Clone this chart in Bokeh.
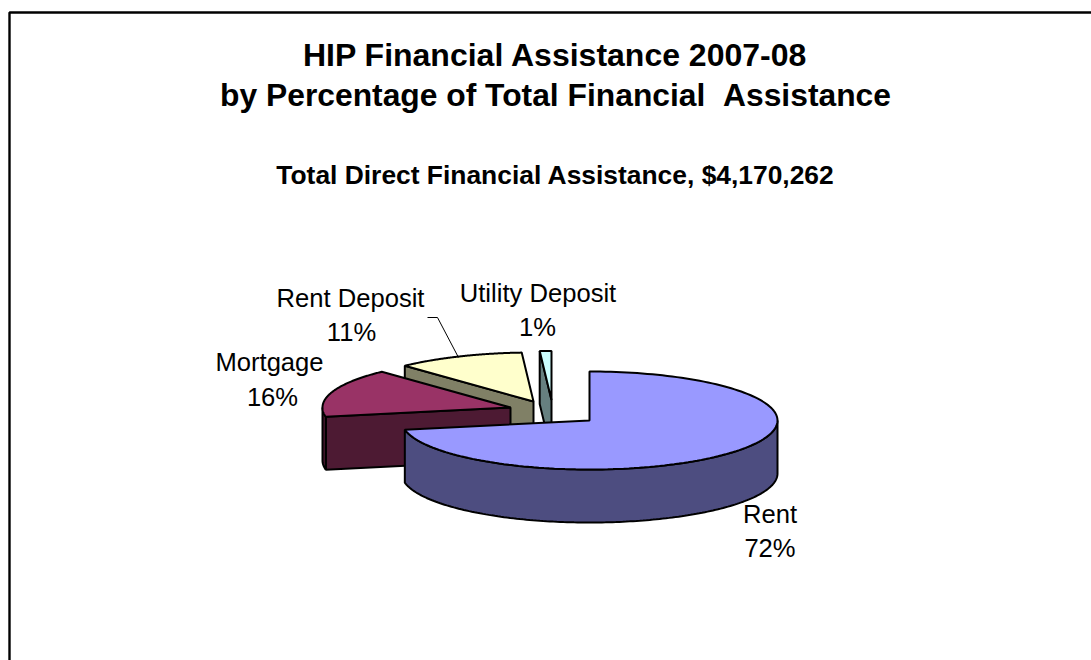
import numpy as np
from bokeh.plotting import figure
from bokeh.models import Range1d
from bokeh.embed import file_html
from bokeh.resources import INLINE
from bokeh.core.properties import value

# ---- data
categories = ["Rent", "Mortgage", "Rent Deposit", "Utility Deposit"]
shares = [72, 16, 11, 1]
percent_labels = ["72%", "16%", "11%", "1%"]
top_colors = ["#9999FF", "#993366", "#FFFFCC", "#CCFFFF"]
wall_colors = ["#4D4D80", "#4D1A33", "#808066", "#668080"]
title_lines = ["HIP Financial Assistance 2007-08", "by Percentage of Total Financial \u00a0Assistance"]
subtitle = "Total Direct Financial Assistance, $4,170,262"

# ---- layout (page pixels)
W, H = 1091, 660
FONT = value("Liberation Sans")
apexes = [(589, 420), (510, 407), (533, 401), (551, 399.5)]
RX, RY, DEPTH = 188, 49, 53
name_xy = [(769.5, 513.5), (269, 361.5), (350, 297), (537.5, 292)]
pct_xy = [(769.5, 547), (272, 396), (351, 331.5), (537, 326)]

p = figure(width=W, height=H, output_backend="svg", toolbar_location=None,
           x_range=Range1d(0, W), y_range=Range1d(H, 0),
           min_border=0, outline_line_color=None, background_fill_color="white",
           border_fill_color="white")
p.axis.visible = False
p.grid.visible = False

# chart frame
p.line([9, 9, W], [H, 12, 12], line_color="black", line_width=2.4)

def pt(c, t, dz=0.0):
    return c[0] + RX * np.sin(t), c[1] - RY * np.cos(t) + dz

edges = np.cumsum([0] + shares) / sum(shares) * 2 * np.pi
LW = 2

def draw_wedge(i):
    c = apexes[i]
    a, b = edges[i], edges[i + 1]
    t = np.linspace(a, b, 160)
    if i > 0:
        ex, ey = pt(c, a)
        p.patch([ex, c[0], c[0], ex], [ey, c[1], c[1] + DEPTH, ey + DEPTH],
                fill_color=wall_colors[i], line_color="black", line_width=LW)
    lo, hi = max(a, np.pi / 2), min(b, 3 * np.pi / 2)
    if hi > lo:
        tw = np.linspace(lo, hi, 160)
        xt, yt = pt(c, tw)
        xb, yb = pt(c, tw[::-1], DEPTH)
        p.patch(np.r_[xt, xb], np.r_[yt, yb],
                fill_color=wall_colors[i], line_color="black", line_width=LW)
    xa, ya = pt(c, t)
    p.patch(np.r_[c[0], xa], np.r_[c[1], ya],
            fill_color=top_colors[i], line_color="black", line_width=LW)

for i in [3, 2, 1, 0]:
    draw_wedge(i)

# leader line of Rent Deposit
p.line([427, 437, 458], [317, 317, 357], line_color="black", line_width=1)

# texts
for line, y, size in zip(title_lines, [54, 94], ["32px", "31.8px"]):
    p.text([555], [y], text=[line], text_font=FONT, text_font_size=size, text_font_style="bold",
           text_align="center", text_baseline="middle", text_color="black")
p.text([555], [174.5], text=[subtitle], text_font=FONT, text_font_size="26.4px", text_font_style="bold",
       text_align="center", text_baseline="middle", text_color="black")
for name, pct, (x, y), (px, py) in zip(categories, percent_labels, name_xy, pct_xy):
    p.text([x], [y], text=[name], text_font=FONT, text_font_size="25.6px",
           text_align="center", text_baseline="middle", text_color="black")
    p.text([px], [py], text=[pct], text_font=FONT, text_font_size="25.6px",
           text_align="center", text_baseline="middle", text_color="black")

open("out.html", "w").write(file_html(p, INLINE))
